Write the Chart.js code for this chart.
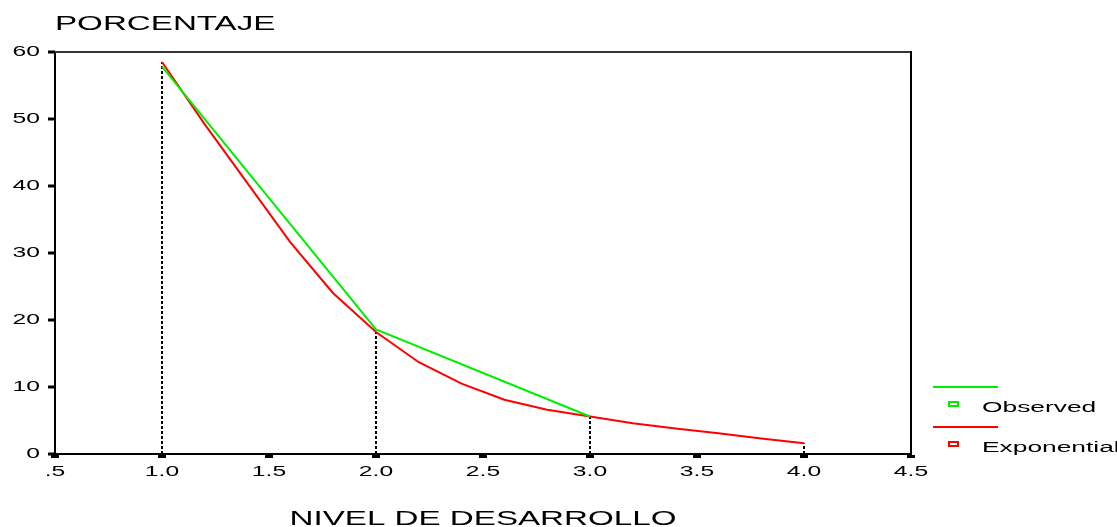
<!DOCTYPE html>
<html><head><meta charset="utf-8">
<script src="https://cdn.jsdelivr.net/npm/chart.js@4.4.1/dist/chart.umd.min.js"></script>
<style>html,body{margin:0;padding:0;background:#fff;overflow:hidden}#wrap{width:1117px;height:527px;position:relative}</style>
</head><body><div id="wrap"><canvas id="c" width="1117" height="527"></canvas></div>
<script>
// ---- data ----
const xTickLabels = [".5", "1.0", "1.5", "2.0", "2.5", "3.0", "3.5", "4.0", "4.5"];
const observedX = [1, 2, 3];
const observedY = [57.8, 18.6, 5.6];
const expX = [1.0, 1.2, 1.4, 1.6, 1.8, 2.0, 2.2, 2.4, 2.6, 2.8, 3.0, 3.2, 3.4, 3.6, 3.8, 4.0];
const expY = [58.5, 49.2, 40.4, 31.6, 24.0, 18.2, 13.7, 10.5, 8.1, 6.6, 5.6, 4.6, 3.8, 3.1, 2.3, 1.6];
const dropX = [1, 2, 3, 4];
const dropTop = [58.5, 18.2, 5.6, 1.6];
const seriesNames = ["Observed", "Exponential"];
const seriesColors = ["#00ee00", "#ff0000"];
const yTitle = "PORCENTAJE";
const xTitle = "NIVEL DE DESARROLLO";

const FONT = "'Liberation Sans', Arial, Helvetica, sans-serif";
const SX = 1.7; // horizontal stretch of the lettering in the reference

const canvas = document.getElementById('c');
const ctx = canvas.getContext('2d');
// stretch all text horizontally around its anchor
const origFill = ctx.fillText.bind(ctx);
const origMeasure = ctx.measureText.bind(ctx);
ctx.fillText = function (text, x, y, maxWidth) {
  this.save();
  this.translate(x, y);
  this.scale(SX, 1);
  if (maxWidth !== undefined) origFill(text, 0, 0, maxWidth / SX); else origFill(text, 0, 0);
  this.restore();
};
ctx.measureText = function (text) {
  const m = origMeasure(text);
  return {
    width: m.width * SX,
    actualBoundingBoxAscent: m.actualBoundingBoxAscent,
    actualBoundingBoxDescent: m.actualBoundingBoxDescent,
    actualBoundingBoxLeft: m.actualBoundingBoxLeft * SX,
    actualBoundingBoxRight: m.actualBoundingBoxRight * SX,
    fontBoundingBoxAscent: m.fontBoundingBoxAscent,
    fontBoundingBoxDescent: m.fontBoundingBoxDescent
  };
};

const datasets = [
  { label: seriesNames[0], data: observedX.map((x, i) => ({ x, y: observedY[i] })),
    borderColor: seriesColors[0], borderWidth: 2, pointRadius: 0, tension: 0, fill: false },
  { label: seriesNames[1], data: expX.map((x, i) => ({ x, y: expY[i] })),
    borderColor: seriesColors[1], borderWidth: 2, pointRadius: 0, tension: 0, fill: false }
];
dropX.forEach((x, i) => datasets.push({
  label: '', data: [{ x, y: 0 }, { x, y: dropTop[i] }],
  borderColor: '#000', borderWidth: 2, borderDash: [3, 2], pointRadius: 0, fill: false
}));

const decor = {
  id: 'decor',
  afterDraw(chart) {
    const c = chart.ctx, a = chart.chartArea;
    const xs = chart.scales.x, ys = chart.scales.y;
    c.save();
    // frame: top and right
    c.strokeStyle = '#333'; c.lineWidth = 2;
    c.beginPath(); c.moveTo(a.left, a.top); c.lineTo(a.right, a.top); c.stroke();
    c.strokeStyle = '#000';
    c.beginPath(); c.moveTo(a.right, a.top - 1); c.lineTo(a.right, a.bottom + 1); c.stroke();
    // tick marks
    c.fillStyle = '#000';
    ys.ticks.forEach(t => { const y = ys.getPixelForValue(t.value); c.fillRect(a.left - 7, y - 1.5, 7, 3); });
    xs.ticks.forEach(t => { const x = xs.getPixelForValue(t.value); c.fillRect(x - 4, a.bottom + 1, 8, 3); });
    // legend
    c.font = '15.5px ' + FONT;
    c.textAlign = 'left'; c.textBaseline = 'alphabetic';
    [0, 1].forEach(i => {
      const ds = chart.data.datasets[i];
      const base = 387 + i * 40;
      c.strokeStyle = ds.borderColor; c.lineWidth = 2;
      c.beginPath(); c.moveTo(933, base); c.lineTo(998, base); c.stroke();
      c.strokeRect(949, base + 15, 9, 4);
      c.fillStyle = '#000';
      c.fillText(ds.label, 982, base + 25);
    });
    c.restore();
  }
};

new Chart(ctx, {
  type: 'line',
  data: { datasets },
  plugins: [decor],
  options: {
    responsive: false, animation: false,
    layout: { padding: { left: 0, right: 206, top: 0, bottom: 0 } },
    plugins: {
      legend: { display: false }, tooltip: { enabled: false },
      title: { display: true, text: yTitle, align: 'start', fullSize: false, color: '#000',
        font: { family: FONT, size: 19.5, weight: 'normal', lineHeight: 1.2 },
        padding: { top: 13, bottom: 15.6 } }
    },
    scales: {
      x: {
        type: 'linear', min: 0.5, max: 4.5,
        afterFit(s) { s.height = 73; },
        grid: { display: false, drawTicks: false },
        border: { display: true, color: '#000', width: 2 },
        ticks: { stepSize: 0.5, autoSkip: false, maxRotation: 0, padding: 9, color: '#000',
          font: { family: FONT, size: 14.5 }, callback: (v, i) => xTickLabels[i] },
        title: { display: true, text: xTitle, color: '#000', font: { family: FONT, size: 19.5, lineHeight: 0.8 },
          padding: { top: 0, bottom: 0 } }
      },
      y: {
        min: 0, max: 60,
        afterFit(s) { s.width = 55; },
        grid: { display: false, drawTicks: false },
        border: { display: true, color: '#000', width: 2 },
        ticks: { stepSize: 10, padding: 15, color: '#000', font: { family: FONT, size: 14.5 } }
      }
    }
  }
});
</script></body></html>
